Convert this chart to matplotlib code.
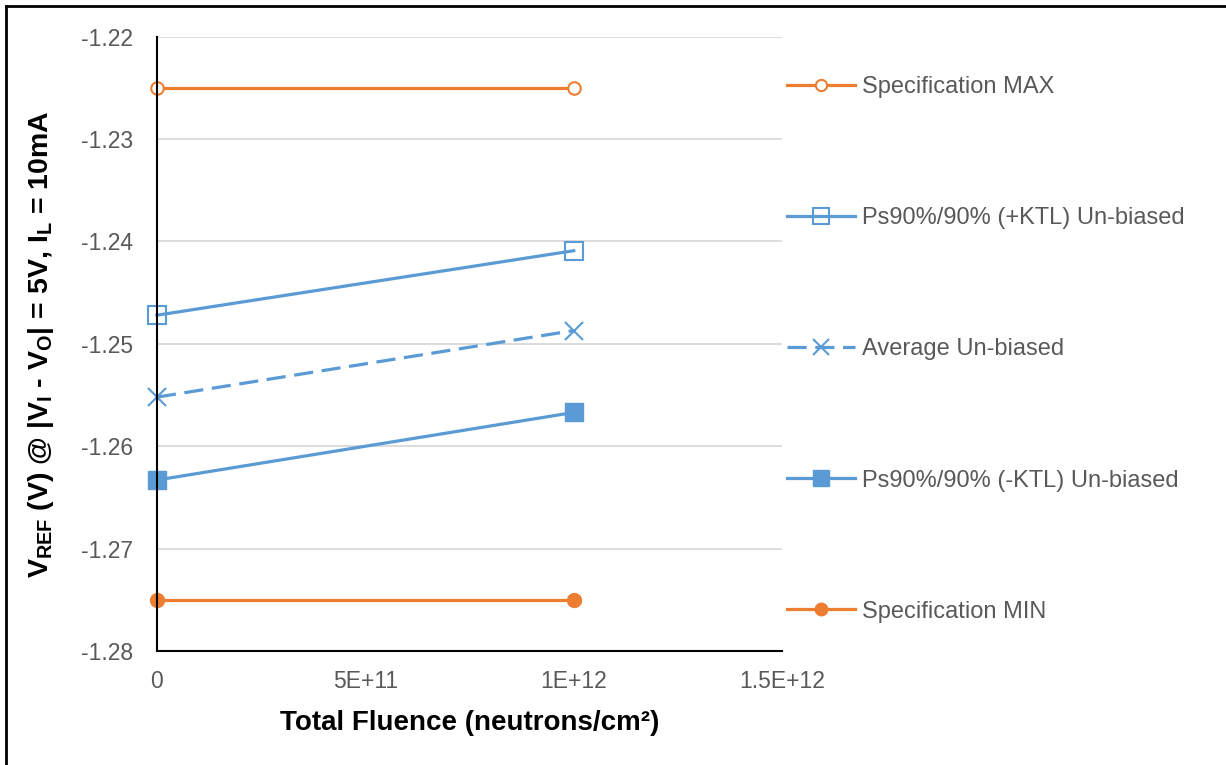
import matplotlib.pyplot as plt
from matplotlib.lines import Line2D

plt.rcParams['font.family'] = ['Liberation Sans', 'DejaVu Sans']
plt.rcParams['mathtext.fontset'] = 'custom'
plt.rcParams['mathtext.rm'] = 'Liberation Sans'
plt.rcParams['mathtext.bf'] = 'Liberation Sans:bold'

# data
fluence = [0, 1e12]
spec_max = [-1.225, -1.225]
ktl_plus = [-1.2472, -1.2409]
average = [-1.2552, -1.2487]
ktl_minus = [-1.2633, -1.2567]
spec_min = [-1.275, -1.275]

orange = '#ED7D31'
blue = '#5B9BD5'

fig = plt.figure(figsize=(12.26, 7.65), dpi=100)
ax = fig.add_axes([0.128, 0.149, 0.510, 0.803])

ax.plot(fluence, spec_max, color=orange, lw=2.3, marker='o', ms=9,
        mfc='white', mec=orange, mew=1.5, label='Specification MAX', clip_on=False)
ax.plot(fluence, ktl_plus, color=blue, lw=2.3, marker='s', ms=13,
        mfc='none', mec=blue, mew=1.5, label='Ps90%/90% (+KTL) Un-biased', clip_on=False)
ax.plot(fluence, average, color=blue, lw=2.3, ls=(0, (6, 2.7)), marker='x', ms=13,
        mec=blue, mew=1.5, label='Average Un-biased', clip_on=False)
ax.plot(fluence, ktl_minus, color=blue, lw=2.3, marker='s', ms=13,
        mfc=blue, mec=blue, label='Ps90%/90% (-KTL) Un-biased', clip_on=False)
ax.plot(fluence, spec_min, color=orange, lw=2.3, marker='o', ms=10,
        mfc=orange, mec=orange, label='Specification MIN', clip_on=False)

ax.set_xlim(0, 1.5e12)
ax.set_ylim(-1.28, -1.22)
ax.set_xticks([0, 5e11, 1e12, 1.5e12])
ax.set_xticklabels(['0', '5E+11', '1E+12', '1.5E+12'])
ax.set_yticks([-1.28, -1.27, -1.26, -1.25, -1.24, -1.23, -1.22])
ax.set_yticklabels(['-1.28', '-1.27', '-1.26', '-1.25', '-1.24', '-1.23', '-1.22'])
ax.tick_params(axis='both', length=0, labelsize=16.5, labelcolor='#595959')
ax.tick_params(axis='y', pad=17)
ax.tick_params(axis='x', pad=14)
ax.grid(axis='y', color='#D9D9D9', lw=1.3)
ax.set_axisbelow(True)
for s in ['top', 'right']:
    ax.spines[s].set_visible(False)
for s in ['left', 'bottom']:
    ax.spines[s].set_color('black')
    ax.spines[s].set_linewidth(1.5)

ax.set_xlabel('Total Fluence (neutrons/cm²)', fontsize=20, fontweight='bold', labelpad=12)
ax.set_ylabel(r'$\mathbf{V_{REF}}$ (V) @ |$\mathbf{V_I}$ - $\mathbf{V_O}$| = 5V, $\mathbf{I_L}$ = 10mA',
              fontsize=20.5, fontweight='bold', labelpad=18)

leg = ax.legend(loc='upper left', bbox_to_anchor=(0.992, 0.951), frameon=False,
                fontsize=17, labelspacing=4.62, handlelength=2.9, handletextpad=0.3,
                borderaxespad=0.0, markerscale=0.9)
for t in leg.get_texts():
    t.set_color('#595959')

# outer frame (top and left edges only visible)
fig.add_artist(Line2D([6 / 1226, 1], [1 - 6 / 765, 1 - 6 / 765], color='black', lw=2))
fig.add_artist(Line2D([6 / 1226, 6 / 1226], [0, 1 - 6 / 765], color='black', lw=2))

fig.savefig('out.png', dpi=100)
